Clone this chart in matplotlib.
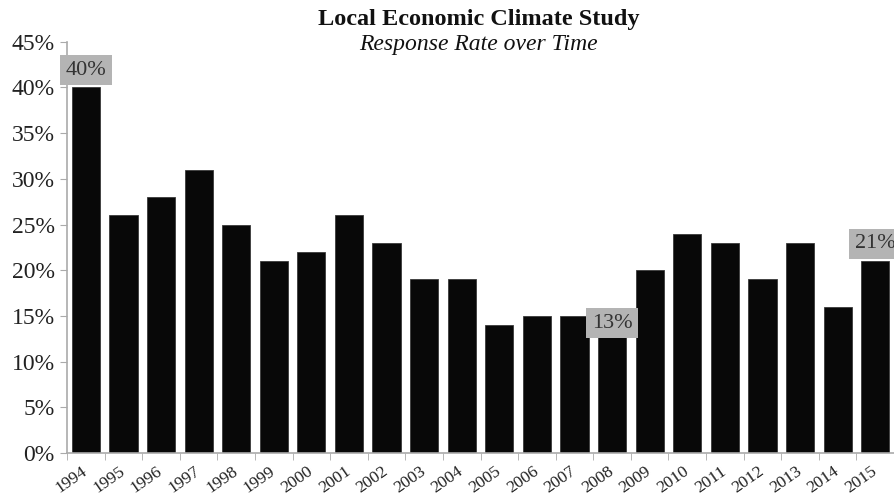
import numpy as np
import matplotlib.pyplot as plt
from matplotlib.transforms import ScaledTranslation

years = [str(y) for y in range(1994, 2016)]
rates = [40, 26, 28, 31, 25, 21, 22, 26, 23, 19, 19, 14, 15, 15, 13, 20, 24, 23, 19, 23, 16, 21]
labeled = {"1994": 40, "2008": 13, "2015": 21}

plt.rcParams['font.family'] = ['Liberation Serif', 'DejaVu Serif']

fig = plt.figure(figsize=(8.94, 5.03), dpi=100)
ax = fig.add_axes([0.075, 0.099, 0.925, 0.818])

x = np.arange(len(years))
ax.bar(x, rates, width=0.75, color='#080808', edgecolor='#3a3a3a', linewidth=0.6, zorder=2)

ax.set_xlim(-0.5, len(years) - 0.5)
ax.set_ylim(0, 45)
ax.set_yticks(range(0, 46, 5))
ax.set_yticklabels([f"{v}%" for v in range(0, 46, 5)], fontsize=17, color='#222222')

ax.set_xticks(x)
ax.set_xticklabels(years, rotation=35, fontsize=12.5, color='#222222',
                   ha='right', va='center', rotation_mode='anchor')
shift = ScaledTranslation(6 / 100, 0, fig.dpi_scale_trans)
for lbl in ax.get_xticklabels():
    lbl.set_transform(lbl.get_transform() + shift)
ax.set_xticks(np.arange(-0.5, len(years)), minor=True)
ax.tick_params(axis='x', which='major', length=0, pad=12)
ax.tick_params(axis='x', which='minor', length=5, color='#aaaaaa', direction='out')
ax.tick_params(axis='y', length=5, color='#aaaaaa', direction='out', pad=4)

for side in ['top', 'right']:
    ax.spines[side].set_visible(False)
for side in ['left', 'bottom']:
    ax.spines[side].set_color('#aaaaaa')
    ax.spines[side].set_linewidth(1.2)

for yr, val in labeled.items():
    i = years.index(yr)
    ypos = val + 1.9 if yr != "2008" else val + 1.2
    ax.text(i, ypos, f"{val}%", ha='center', va='center', fontsize=16, color='#333333',
            bbox=dict(boxstyle='square,pad=0.25', facecolor='#b4b4b4', edgecolor='none'),
            zorder=3, clip_on=False)

fig.text(0.535, 0.962, "Local Economic Climate Study", ha='center', va='center',
         fontsize=17.5, fontweight='bold', color='#111111')
fig.text(0.535, 0.912, "Response Rate over Time", ha='center', va='center',
         fontsize=17, style='italic', color='#111111')

fig.savefig('out.png', dpi=100)
